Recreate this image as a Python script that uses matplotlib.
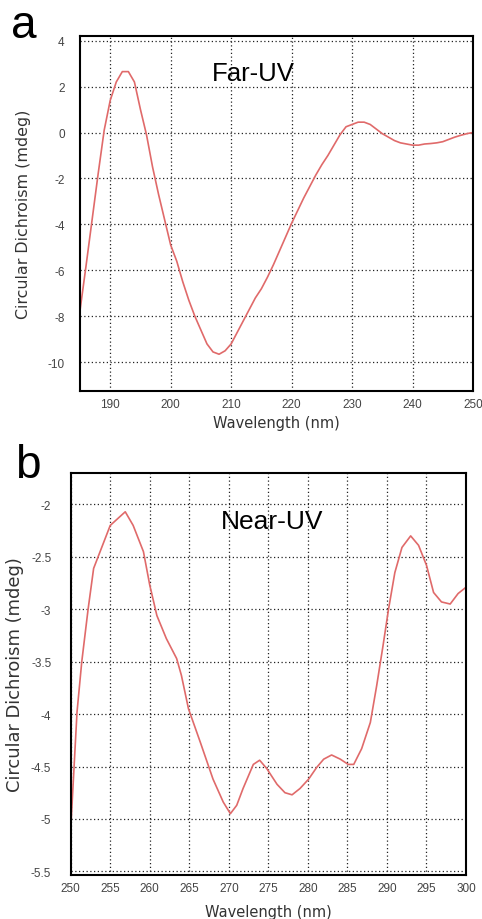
import matplotlib
matplotlib.use("Agg")
import matplotlib.pyplot as plt

# ---- Data ----
far_wl = [185, 186, 187, 188, 189, 190, 191, 192, 193, 194, 195, 196, 197, 198, 199,
          200, 201, 202, 203, 204, 205, 206, 207, 208, 209, 210, 211, 212, 213, 214,
          215, 216, 217, 218, 219, 220, 221, 222, 223, 224, 225, 226, 227, 228, 229,
          230, 231, 232, 233, 234, 235, 236, 237, 238, 239, 240, 241, 242, 243, 244,
          245, 246, 247, 248, 249, 250]
far_cd = [-7.75, -5.8, -3.8, -1.8, 0.1, 1.4, 2.2, 2.65, 2.65, 2.2, 1.0, -0.1, -1.5, -2.7, -3.8,
          -4.9, -5.6, -6.5, -7.3, -8.0, -8.6, -9.2, -9.55, -9.65, -9.5, -9.2, -8.7, -8.2, -7.7, -7.2,
          -6.8, -6.3, -5.75, -5.15, -4.55, -3.95, -3.4, -2.85, -2.35, -1.85, -1.4, -1.0, -0.55, -0.1, 0.25,
          0.35, 0.45, 0.45, 0.35, 0.15, -0.05, -0.2, -0.35, -0.45, -0.5, -0.55, -0.55, -0.5, -0.48, -0.45,
          -0.4, -0.3, -0.2, -0.12, -0.05, 0.0]

near_wl = [250.0, 250.8, 251.4, 252.2, 252.9, 255.0, 256.9, 257.9, 259.2, 260.0, 260.9, 262.1,
           263.4, 264.0, 264.9, 266.4, 268.0, 269.3, 270.2, 271.0, 271.8, 273.1, 273.9, 274.8,
           276.1, 277.1, 278.0, 279.0, 280.1, 281.1, 282.0, 283.0, 284.1, 285.1, 285.8, 286.8,
           287.9, 288.7, 289.5, 290.2, 291.0, 291.9, 293.0, 294.0, 295.0, 295.9, 296.9, 298.0,
           299.0, 300.0]
near_cd = [-5.10, -3.98, -3.50, -3.00, -2.61, -2.20, -2.07, -2.20, -2.45, -2.77, -3.06, -3.28,
           -3.47, -3.63, -3.95, -4.27, -4.62, -4.84, -4.95, -4.87, -4.71, -4.48, -4.44, -4.52,
           -4.67, -4.75, -4.77, -4.71, -4.62, -4.51, -4.43, -4.39, -4.43, -4.48, -4.48, -4.33,
           -4.08, -3.73, -3.35, -3.00, -2.65, -2.41, -2.30, -2.39, -2.58, -2.84, -2.93, -2.95,
           -2.85, -2.79]

far_xticks = [190, 200, 210, 220, 230, 240, 250]
far_yticks = [-10, -8, -6, -4, -2, 0, 2, 4]
near_xticks = [250, 255, 260, 265, 270, 275, 280, 285, 290, 295, 300]
near_yticks = [-5.5, -5, -4.5, -4, -3.5, -3, -2.5, -2]

line_color = "#e06a6a"
grid_kw = dict(color="#222222", linestyle=(0, (1, 2)), linewidth=0.9)
label_font = "DejaVu Sans"

fig = plt.figure(figsize=(4.82, 9.2), dpi=100)


def fmt(v):
    return "%g" % v


def style(ax, xticks, yticks, ypad):
    ax.set_xticks(xticks)
    ax.set_yticks(yticks)
    ax.set_xticklabels([fmt(v) for v in xticks])
    ax.set_yticklabels([fmt(v) for v in yticks])
    ax.tick_params(axis="both", length=0, labelsize=8.5, labelcolor="#444444")
    ax.tick_params(axis="x", pad=5)
    ax.tick_params(axis="y", pad=ypad)
    for lab in ax.get_xticklabels() + ax.get_yticklabels():
        lab.set_family("Liberation Sans")
    ax.grid(True, **grid_kw)
    ax.set_axisbelow(True)
    for sp in ax.spines.values():
        sp.set_linewidth(1.5)
        sp.set_color("black")


# ---- Panel a ----
ax1 = fig.add_axes([80 / 482, 1 - 392 / 920, 393 / 482, 355 / 920])
ax1.plot(far_wl, far_cd, color=line_color, linewidth=1.2)
ax1.set_xlim(185, 250)
ax1.set_ylim(-11.25, 4.2)
style(ax1, far_xticks, far_yticks, 11)
ax1.set_xlabel("Wavelength (nm)", fontsize=10.5, color="#333333", va="center",
               family=label_font)
ax1.xaxis.set_label_coords(0.5, -0.09)
ax1.set_ylabel("Circular Dichroism (mdeg)", fontsize=11.4, color="#333333", va="center",
               family=label_font)
ax1.yaxis.set_label_coords(-0.145, 0.5)
ax1.text(0.44, 0.896, "Far-UV", transform=ax1.transAxes, ha="center", va="center",
         fontsize=18.5, family="Liberation Sans", color="black")

# ---- Panel b ----
ax2 = fig.add_axes([70.7 / 482, 1 - 876 / 920, 395.3 / 482, 402 / 920])
ax2.plot(near_wl, near_cd, color=line_color, linewidth=1.2)
ax2.set_xlim(250, 300)
ax2.set_ylim(-5.535, -1.70)
style(ax2, near_xticks, near_yticks, 14)
ax2.set_xlabel("Wavelength (nm)", fontsize=10.5, color="#333333", va="center",
               family=label_font)
ax2.xaxis.set_label_coords(0.5, -0.0896)
ax2.set_ylabel("Circular Dichroism (mdeg)", fontsize=12.9, color="#333333", va="center",
               family=label_font)
ax2.yaxis.set_label_coords(-0.141, 0.5)
ax2.text(0.509, 0.881, "Near-UV", transform=ax2.transAxes, ha="center", va="center",
         fontsize=19, family="Liberation Sans", color="black")

# ---- Panel letters ----
fig.text(11 / 482, 1 - 38 / 920, "a", fontsize=33, family="Liberation Sans",
         ha="left", va="baseline")
fig.text(15 / 482, 1 - 478 / 920, "b", fontsize=33, family="Liberation Sans",
         ha="left", va="baseline")

fig.savefig("out.png", dpi=100)
